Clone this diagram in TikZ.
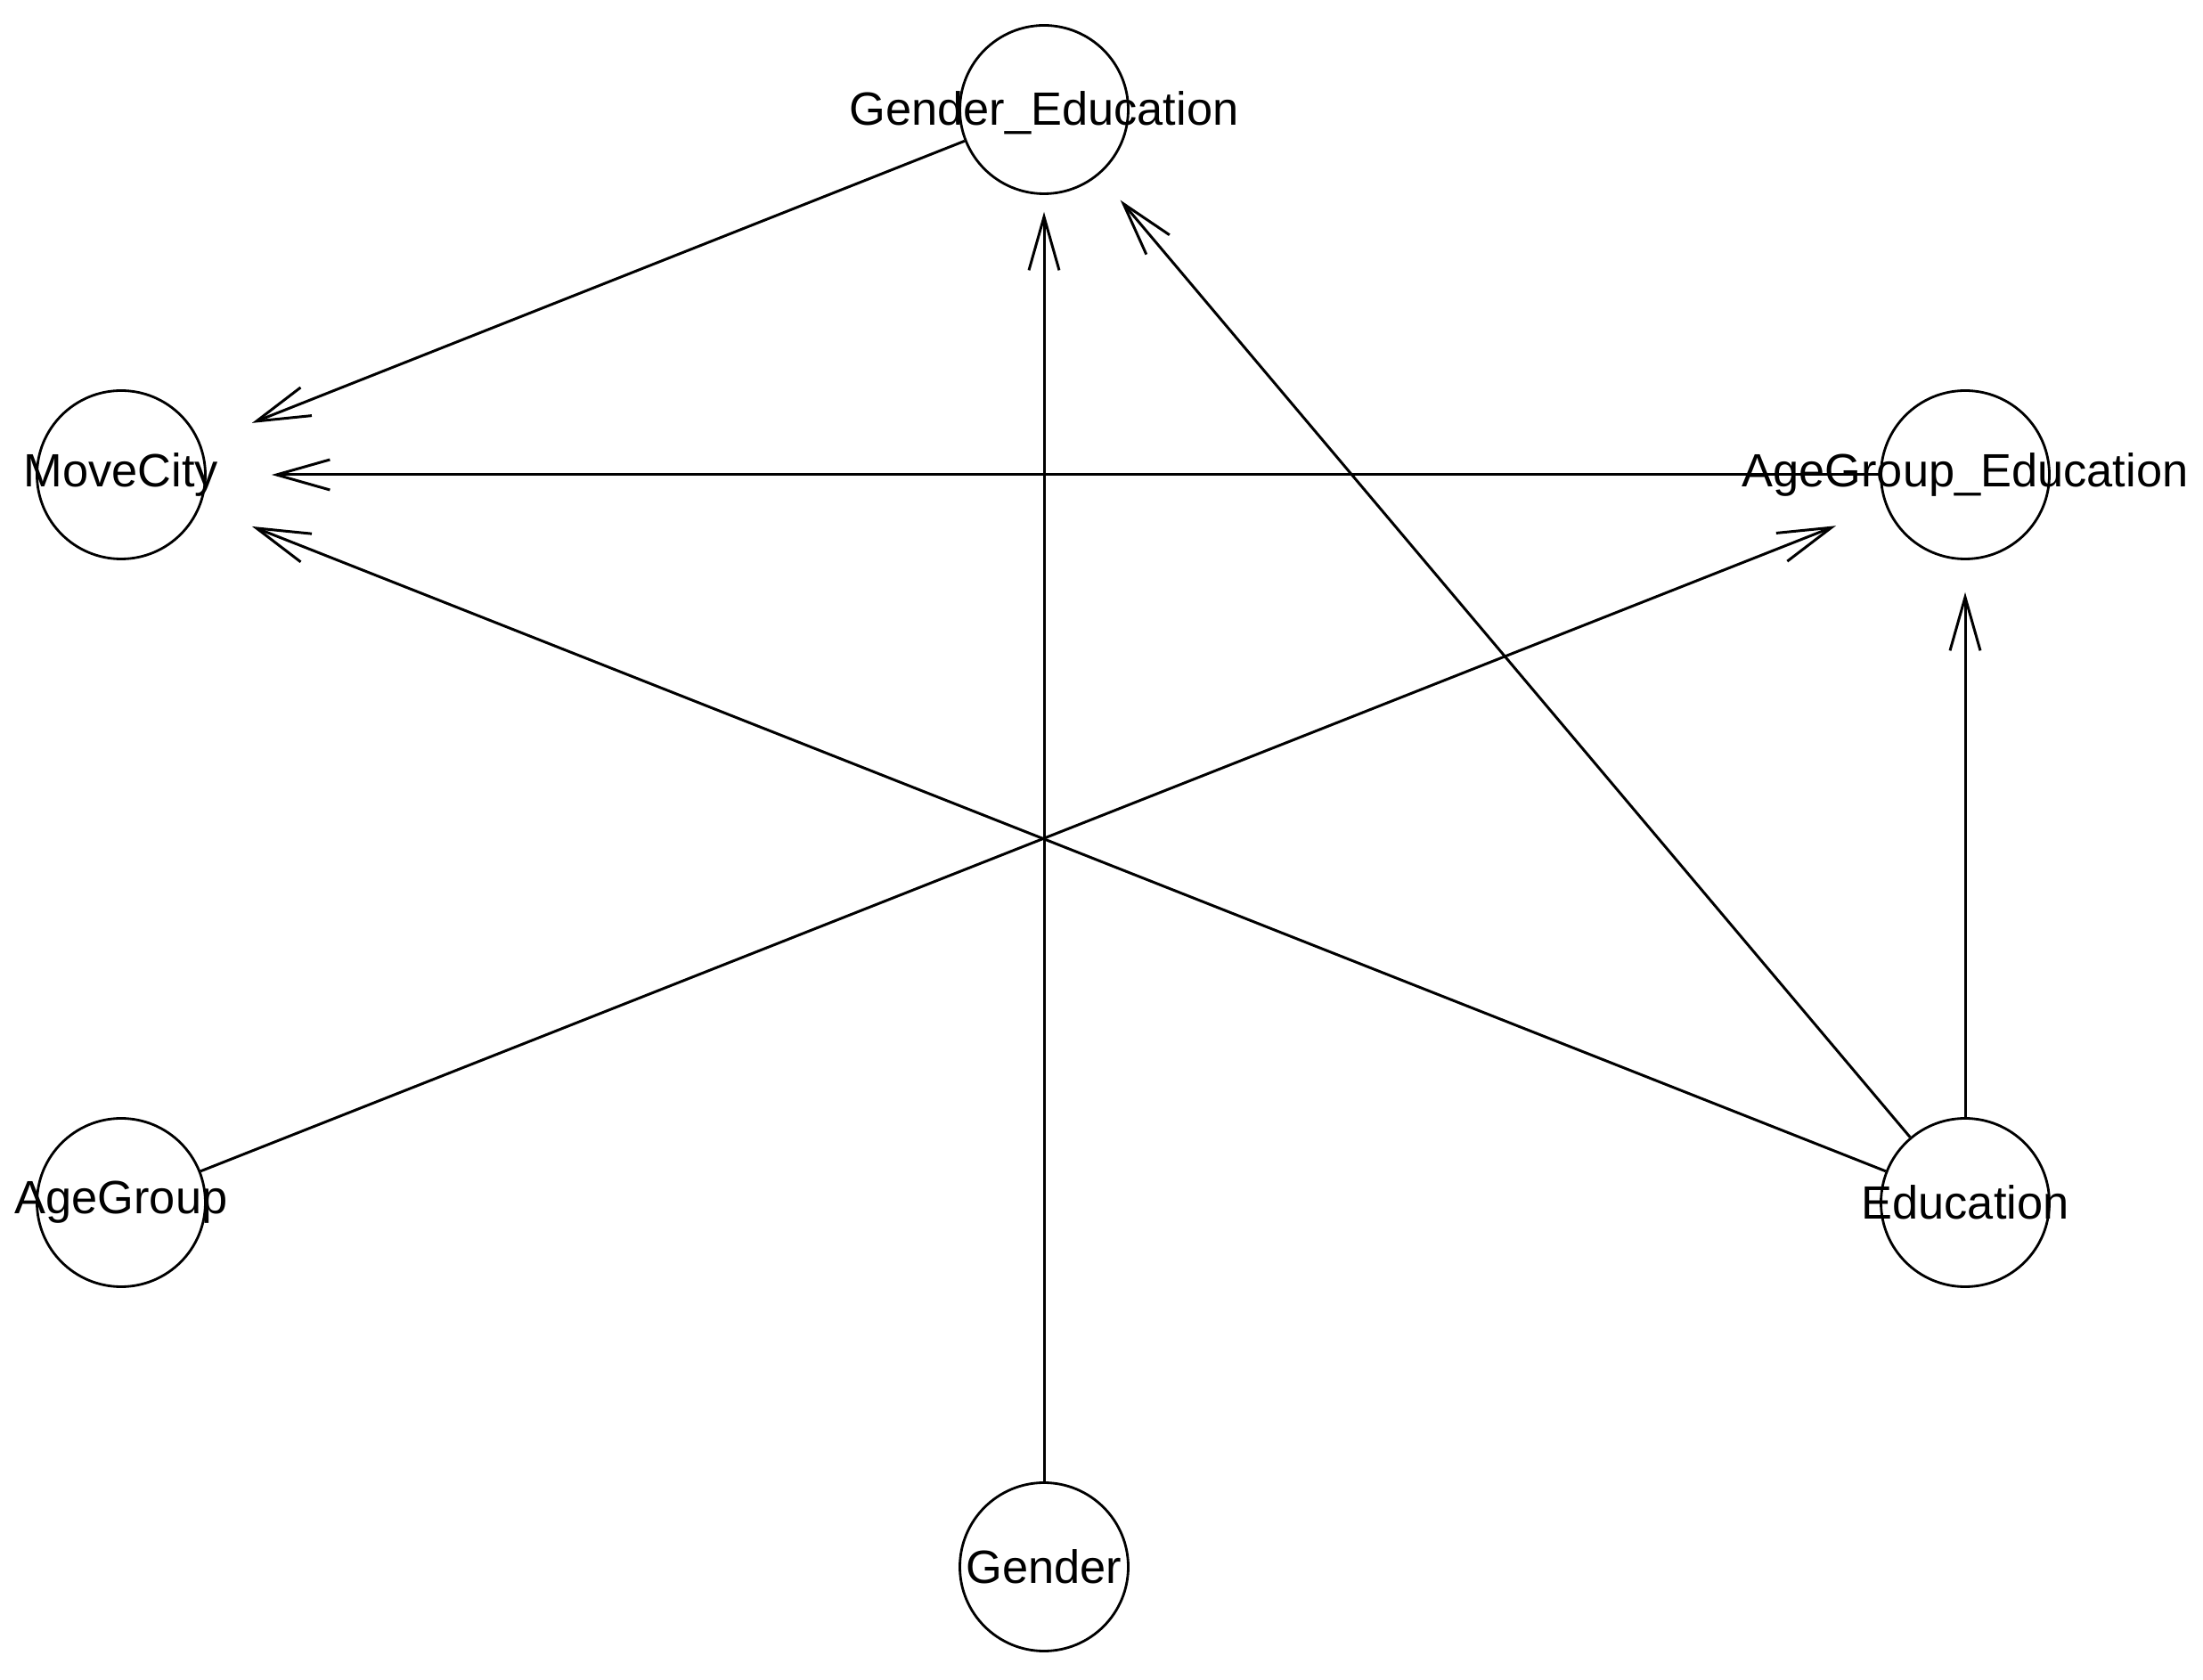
\documentclass[tikz,border=0pt]{standalone}
\usepackage{fontspec}
\setmainfont{Liberation Sans}
\usetikzlibrary{arrows.meta}
\tikzset{
  vtx/.style={draw=black, circle, minimum size=1.89cm, inner sep=0pt, line width=0.8pt},
  lbl/.style={inner sep=0pt, font=\fontsize{14.9}{18}\selectfont},
  edge/.style={draw=black, line width=0.85pt, -{Straight Barb[length=0.6cm, width=0.34cm, line width=0.85pt]}}
}
\begin{document}
\begin{tikzpicture}[x=1cm,y=1cm]
\useasboundingbox (0,0) rectangle (24.73,-18.86);
% vertices
\node[vtx] (GE)  at (11.72,-1.23) {};
\node[vtx] (MC)  at (1.36,-5.33) {};
\node[vtx] (AGE) at (22.06,-5.33) {};
\node[vtx] (AG)  at (1.36,-13.50) {};
\node[vtx] (ED)  at (22.06,-13.50) {};
\node[vtx] (G)   at (11.72,-17.59) {};
% edges
\draw[edge, shorten >=0.62cm] (GE) -- (MC);
\draw[edge, shorten >=0.73cm] (AGE) -- (MC);
\draw[edge, shorten >=0.62cm] (ED) -- (MC);
\draw[edge, shorten >=0.19cm] (G) -- (GE);
\draw[edge, shorten >=0.37cm] (ED) -- (GE);
\draw[edge, shorten >=0.60cm] (AG) -- (AGE);
\draw[edge, shorten >=0.36cm] (ED) -- (AGE);
% labels
\node[lbl] (tGE)  at ([yshift=-0.04cm]GE.center)  {Gender\_Education};
\node[lbl] (tMC)  at (MC)  {MoveCity};
\node[lbl] (tAGE) at (AGE) {AgeGroup\_Education};
\node[lbl] (tAG)  at (AG)  {AgeGroup};
\node[lbl] (tED)  at (ED)  {Education};
\node[lbl] (tG)   at (G)   {Gender};
\end{tikzpicture}
\end{document}
